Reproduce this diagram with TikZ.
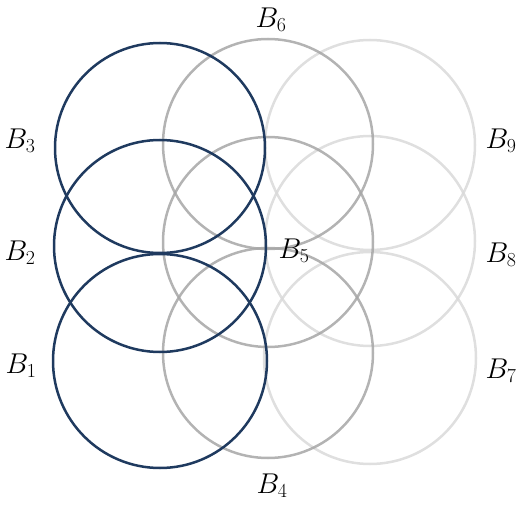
\documentclass[tikz,border=0pt]{standalone}
\usepackage{fontspec}
\begin{document}
\begin{tikzpicture}[x=1pt,y=-1pt,
  navy/.style={draw=navycol,line width=2.5pt},
  midg/.style={draw=midgray,line width=2.5pt,draw opacity=0.85},
  lightg/.style={draw=lightgray2,line width=2.5pt,draw opacity=0.85},
  lab/.style={inner sep=0pt,scale=1.15,font=\fontsize{24}{28}\selectfont}]
\definecolor{navycol}{HTML}{1F3A5F}
\definecolor{midgray}{HTML}{A6A6A6}
\definecolor{lightgray2}{HTML}{D9D9D9}
\useasboundingbox (0,0) rectangle (522,505);
% light gray column
\draw[lightg] (370,145) circle (105);
\draw[lightg] (370,241) circle (105);
\draw[lightg] (370,358) circle (106);
% gray column
\draw[midg] (268,144) circle (105);
\draw[midg] (268,242) circle (105);
\draw[midg] (268,353) circle (105);
% navy column
\draw[navy] (160,148) circle (105);
\draw[navy] (160,246) circle (106);
\draw[navy] (160,361) circle (107);
% labels
\node[lab] (b6) at (271,20) {$B_6$};
\node[lab] (b3) at (20,141) {$B_3$};
\node[lab] (b2) at (20,253) {$B_2$};
\node[lab] (b1) at (21,366) {$B_1$};
\node[lab] (b9) at (501,141) {$B_9$};
\node[lab] (b8) at (501,255) {$B_8$};
\node[lab] (b7) at (501,371) {$B_7$};
\node[lab] (b4) at (272,486) {$B_4$};
\node[lab] (b5) at (294,251) {$B_5$};
\end{tikzpicture}
\end{document}
